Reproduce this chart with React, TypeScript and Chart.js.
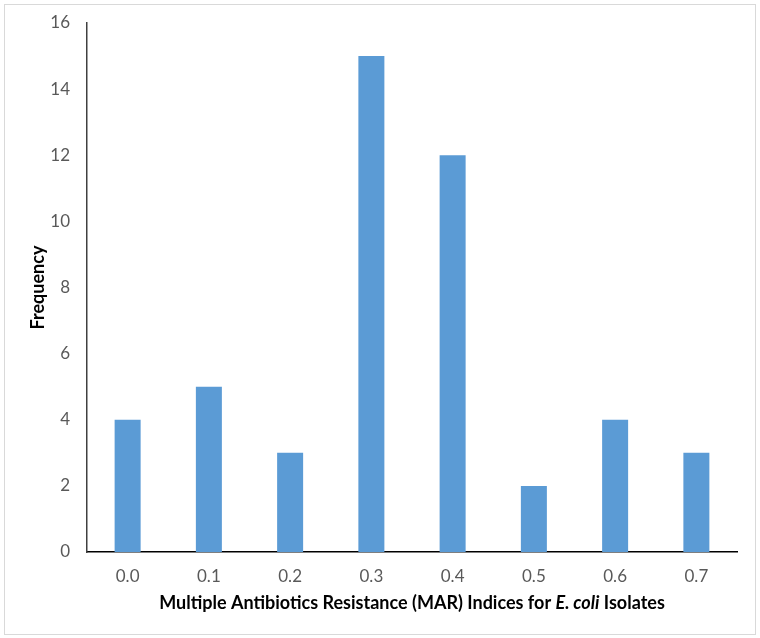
import React, { useEffect, useRef } from "react";
import { Chart, registerables } from "chart.js";

Chart.register(...registerables);

const categories = ["0.0", "0.1", "0.2", "0.3", "0.4", "0.5", "0.6", "0.7"];
const frequency = [4, 5, 3, 15, 12, 2, 4, 3];
const yTitle = "Frequency";
const xTitleParts = [
  { text: "Multiple Antibiotics Resistance (MAR) Indices for ", italic: false },
  { text: "E. coli", italic: true },
  { text: " Isolates", italic: false },
];

const FONT = "Lato, 'Open Sans', sans-serif";

const decorPlugin = {
  id: "decor",
  beforeDraw(chart: any) {
    const ctx = chart.ctx;
    ctx.save();
    ctx.fillStyle = "#ffffff";
    ctx.fillRect(0, 0, chart.width, chart.height);
    ctx.strokeStyle = "#d9d9d9";
    ctx.lineWidth = 1;
    ctx.strokeRect(4.5, 4.5, 751, 630);
    ctx.restore();
  },
  afterDraw(chart: any) {
    const ctx = chart.ctx;
    const area = chart.chartArea;
    ctx.save();
    ctx.fillStyle = "#000000";
    ctx.textBaseline = "middle";
    const fonts = xTitleParts.map((p) => `${p.italic ? "italic " : ""}bold 18px ${FONT}`);
    let total = 0;
    const widths = xTitleParts.map((p, i) => {
      ctx.font = fonts[i];
      const w = ctx.measureText(p.text).width;
      total += w;
      return w;
    });
    let x = (area.left + area.right) / 2 - total / 2;
    const y = 603;
    ctx.textAlign = "left";
    xTitleParts.forEach((p, i) => {
      ctx.font = fonts[i];
      ctx.fillText(p.text, x, y);
      x += widths[i];
    });
    ctx.translate(38, (area.top + area.bottom) / 2);
    ctx.rotate(-Math.PI / 2);
    ctx.textAlign = "center";
    ctx.font = `bold 18px ${FONT}`;
    ctx.fillText(yTitle, 0, 0);
    ctx.restore();
  },
};

export default function App() {
  const ref = useRef<HTMLCanvasElement>(null);
  useEffect(() => {
    if (!ref.current) return;
    const chart = new Chart(ref.current, {
      type: "bar",
      data: {
        labels: categories,
        datasets: [
          {
            data: frequency,
            backgroundColor: "#5B9BD5",
            borderWidth: 0,
            categoryPercentage: 1,
            barPercentage: 0.32,
          },
        ],
      },
      options: {
        animation: false,
        responsive: false,
        maintainAspectRatio: false,
        layout: { padding: { left: 0, right: 23, top: 23, bottom: 0 } },
        plugins: { legend: { display: false }, tooltip: { enabled: false } },
        scales: {
          x: {
            grid: { display: false },
            border: { display: true, color: "#000000", width: 1.5 },
            ticks: {
              color: "#595959",
              font: { family: FONT, size: 17 },
              padding: 6,
            },
            afterFit(scale: any) {
              scale.height = 86;
            },
          },
          y: {
            min: 0,
            max: 16,
            grid: { display: false },
            border: { display: true, color: "#404040", width: 1.5 },
            ticks: {
              stepSize: 2,
              color: "#595959",
              font: { family: FONT, size: 17 },
              padding: 9,
            },
            afterFit(scale: any) {
              scale.width = 87;
            },
          },
        },
      },
      plugins: [decorPlugin],
    });
    return () => chart.destroy();
  }, []);
  return (
    <div style={{ position: "absolute", left: 0, top: 0, width: 760, height: 638 }}>
      <canvas ref={ref} width={760} height={638} style={{ width: 760, height: 638 }} />
    </div>
  );
}
